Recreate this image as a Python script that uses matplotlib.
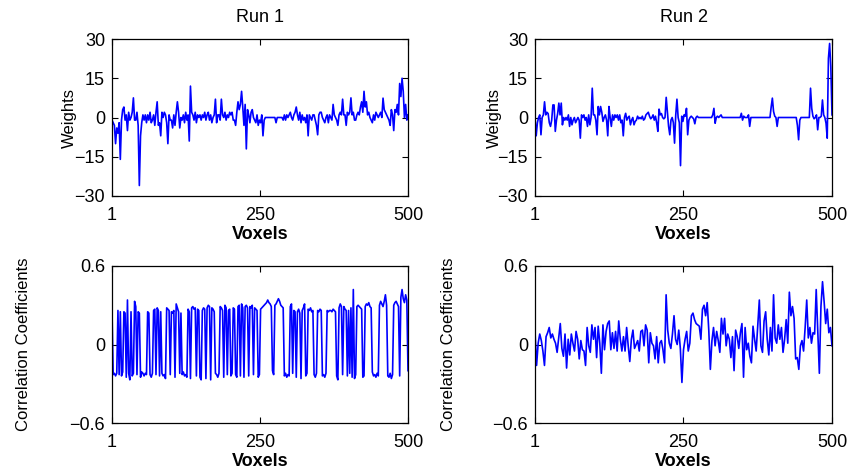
import numpy as np
import matplotlib
matplotlib.use("Agg")
import matplotlib.pyplot as plt

plt.rcParams['font.family'] = ['Liberation Sans', 'DejaVu Sans']

# classifier weights per voxel (every second voxel)
weights_run1 = [
    -1, -2, -3, -10, -4, -6, -2, -16, -1, 3,
    4, -1, 1, -5, 2, -1, 0, 2, 7.5, -1,
    -1, 2, -3, -26, -7, -2, 1, -1, 1, -2,
    1, -1, 2, -2, -1, 1, -3, 2, 6, -3,
    -2, -7, 2, 0, 2, 1, -2, -10, 1, -1,
    -1, -4, 1, -3, 2, 6, 2, -4, 0, -1,
    1, -2, 2, -1, 1, -9, 12, 2, 1, -1,
    2, -2, 1, 0, 1, -1, 1, 0, 2, -1,
    1, 2, -1, 1, -2, 0, 1, 7, -2, 1,
    1, -1, 7, 1, 0, 2, -1, 1, 0, 2,
    1, 2, -1, -1, -3, 2, 6, 3, 5, 10,
    4, -3, 5, -12, 3, 1, -2, 2, 3, 0,
    -1, -2, 1, -3, -1, -2, 1, -7, -1, 0,
    0, 0, 0, 0, 0, 0, 0, 0, -2, 0,
    0, 0, 0, 0, -1, 1, -1, 1, 0, 1,
    2, 0, -1, 1, 2, 4, 1, -1, 2, -2,
    1, -1, 0, -2, 1, -7, 1, 0, -1, 1,
    1, -1, -3, -6.6, 1, 2, 2, 0, -1, -2,
    0, 1, -2, 1, 0, -1, 5, 1, 0, -1,
    -3, 1, 2, 1, 7, 1, 1, -3, 2, 1,
    2, 7.5, 1, 2, -1, -1, 1, 2, 1, 4,
    6, 2, 10, 4, 6, 1, 2, 0, -1, -2,
    1, -1, 2, 1, 0, 1, 2, 0, 7.4, 3,
    2, 1, 0, -1, -3, 3, 1, -5, 3, 2,
    5, 1, 13, 8, 15, 10, 0, 5, -1, 1,
]

weights_run2 = [
    0, -7, -2, 0, 1, -6.6, 0, 1, 6, 1,
    2, 1.5, -2, -3.4, -1, 4.8, 4.8, -5.3, -1, 1.5,
    5.5, 1, 5.5, -2.8, 0, -1, 0, -1, 1, -3.4,
    0, -2.8, -1, 0, -2, -1, 0, -1, -7.9, 1,
    0, 1, -1, 0, -3.4, 1, -2.8, 0, 11.2, 1,
    1, -1, -6.6, 4.2, 1, 4.2, 2, -1.5, 0, 1,
    -1, -7, 4.2, 0, -3.4, 1, -1, 1, 0, 1,
    -1, 1, -2, -1, -7, 0, 1.6, -1, 0, 0.5,
    -2.8, -1, 0, -2.8, -1.5, -1, 0.5, -0.5, 0, -0.5,
    0.5, -1, -0.5, 1, 1.5, 2, 0.5, -0.5, 0, 1,
    -1, 0.5, -2, -5.3, 3.2, 1, 1.5, 0, -0.5, 0,
    7.7, 2, -3.4, -6.6, -1, 0, -2, -9.8, 1, 7,
    0, -2, -18.4, 0.5, -1.5, 1, 0.5, 3.5, -6.6, -1,
    0, 0.5, 0, -0.5, -2.4, 0, 0.5, 0, 0, 0,
    0, 0, 0, 0, 0, 0, 0, 0, 0, 1,
    3.5, -2.2, 0, 0.5, 0, 0.5, 1, 0, 0, 0,
    0, 0, 0, 0, 0, 0, 0, 0, 0, 0,
    0, 0, 0, 1.6, -1, 0.5, 0, 0, 0, 1,
    -3.4, 0, 0, 0, 0, 0, 0, 0, 0, 0,
    0, 0, 0, 0, 0, 0, 0, 0, 4, 7.4,
    2.3, 0.5, 0, -3.4, 0, 0, 0, 0, 0, 0,
    0, 0, 0, 0, 0, 0, 0, 0, 0, 0,
    -3, -8.5, -1, 0, 0, 0, 0, 0, 0, 0,
    0, 11.2, 3.5, 0.5, -0.5, 0, 1, -4.7, 0, 0,
    0.5, 6.7, 1, 0, -2.2, -7.9, 22.6, 28.3, 19.4, 1,
]

# correlation coefficient of each voxel with the label
corr_run1 = [
    0.26, -0.23, -0.22, -0.24, -0.22, 0.26, -0.23, 0.25, -0.24, -0.21,
    0.25, 0.24, -0.25, 0.34, -0.22, -0.27, 0.25, -0.24, -0.22, 0.33,
    0.29, -0.23, 0.25, 0.24, -0.25, -0.21, -0.22, -0.24, -0.22, -0.23,
    0.25, 0.24, -0.23, -0.25, -0.22, 0.26, 0.27, -0.23, 0.28, 0.26,
    -0.24, 0.25, -0.22, -0.24, -0.23, -0.26, 0.28, 0.27, 0.26, -0.23,
    0.25, 0.24, 0.26, -0.25, 0.31, 0.28, 0.25, -0.22, 0.24, -0.23,
    -0.21, -0.24, -0.23, -0.25, 0.27, 0.25, -0.26, 0.28, 0.29, 0.27,
    0.28, -0.24, 0.27, 0.26, -0.25, -0.27, 0.26, 0.28, 0.27, -0.26,
    0.28, 0.30, 0.29, -0.27, 0.28, 0.27, 0.25, -0.22, -0.23, -0.25,
    -0.22, 0.29, 0.28, 0.26, -0.25, 0.30, 0.28, -0.23, 0.26, 0.27,
    -0.24, -0.22, 0.28, 0.27, -0.23, -0.25, 0.29, 0.30, -0.24, 0.31,
    0.28, -0.25, 0.29, 0.30, 0.28, -0.24, 0.29, 0.28, 0.30, -0.23,
    0.28, 0.27, 0.26, -0.25, -0.23, 0.27, 0.28, 0.29, 0.30, 0.31,
    0.32, 0.34, 0.32, 0.31, 0.29, -0.20, -0.23, 0.30, 0.31, 0.33,
    0.35, 0.33, 0.30, 0.29, 0.28, -0.24, -0.22, -0.25, -0.23, -0.24,
    0.29, 0.31, -0.22, 0.26, 0.25, -0.25, 0.25, 0.27, 0.24, -0.26,
    0.26, 0.28, 0.31, -0.24, -0.22, 0.27, 0.26, 0.28, 0.25, 0.26,
    -0.23, -0.25, -0.22, 0.26, 0.25, 0.27, 0.26, -0.24, -0.23, -0.25,
    -0.22, 0.26, 0.25, 0.26, 0.26, 0.25, 0.27, 0.26, 0.25, -0.24,
    -0.27, 0.28, 0.31, 0.29, -0.23, 0.29, 0.27, 0.26, -0.24, 0.26,
    -0.22, 0.28, -0.25, 0.42, -0.26, -0.23, 0.29, 0.30, 0.29, 0.28,
    0.27, -0.25, -0.24, 0.29, 0.31, 0.30, 0.32, 0.29, 0.28, -0.21,
    -0.24, -0.23, -0.25, -0.22, -0.24, 0.30, 0.33, 0.31, 0.29, 0.33,
    0.38, 0.30, -0.24, -0.25, -0.22, -0.26, -0.23, 0.30, 0.32, 0.33,
    0.31, 0.29, -0.24, 0.36, 0.42, 0.35, 0.32, 0.38, 0.34, -0.20,
]

corr_run2 = [
    0.10, -0.16, 0.01, 0.08, 0.03, -0.05, -0.16, 0.06, 0.09, 0.13,
    0.05, 0.08, 0.04, 0.01, -0.06, 0.05, 0.16, -0.03, -0.09, 0.08,
    -0.18, 0.04, -0.08, 0.08, 0.01, -0.05, 0.10, 0.04, -0.11, 0.03,
    -0.04, -0.05, -0.16, 0.13, -0.01, -0.06, 0.15, 0.04, 0.13, -0.10,
    0.14, 0.01, -0.22, 0.15, -0.04, 0.10, 0.16, 0.18, -0.04, 0.09,
    -0.03, 0.10, -0.05, 0.18, 0.04, -0.05, 0.06, -0.05, 0.13, -0.01,
    -0.13, 0.04, 0.11, -0.03, 0.00, 0.03, -0.05, 0.10, 0.11, -0.01,
    0.15, 0.11, -0.14, 0.09, 0.01, -0.01, -0.11, 0.06, -0.14, 0.01,
    0.03, -0.04, -0.14, 0.38, 0.11, 0.01, -0.03, 0.08, 0.22, 0.04,
    0.00, 0.11, -0.03, -0.29, -0.04, 0.04, 0.10, -0.05, 0.01, 0.22,
    0.24, 0.19, 0.16, 0.15, 0.14, 0.04, 0.27, 0.30, 0.22, 0.32,
    0.11, -0.19, 0.03, 0.13, -0.01, 0.10, 0.03, -0.06, 0.20, 0.08,
    0.20, -0.01, 0.08, 0.04, -0.10, 0.06, -0.20, 0.11, 0.06, -0.03,
    0.09, 0.16, -0.25, 0.13, -0.04, 0.01, -0.09, -0.14, 0.14, 0.04,
    -0.05, 0.15, 0.34, -0.01, -0.06, 0.18, 0.25, 0.04, -0.08, 0.13,
    -0.05, 0.38, 0.05, 0.01, 0.15, 0.04, 0.13, -0.06, 0.04, 0.19,
    0.01, 0.40, 0.22, 0.29, 0.20, -0.11, -0.10, -0.19, -0.01, 0.03,
    -0.05, 0.13, 0.34, 0.05, 0.13, 0.01, 0.09, 0.08, 0.42, 0.11,
    -0.22, 0.29, 0.48, 0.33, 0.16, 0.27, 0.09, 0.13, -0.01,
]

runs = ["Run 1", "Run 2"]
voxel_ticks = [1, 250, 500]
weight_ticks = [-30, -15, 0, 15, 30]
weight_labels = ["\u221230", "\u221215", "0", "15", "30"]
corr_ticks = [-0.6, 0, 0.6]
corr_labels = ["\u22120.6", "0", "0.6"]

fig = plt.figure(figsize=(8.59, 4.75), dpi=100)

lefts = [112 / 859, 535 / 859]
widths = [296 / 859, 297 / 859]
top_row = 1 - 196 / 475
bottom_row = 1 - 423 / 475
row_h = 157 / 475

panels = [
    (0, top_row, weights_run1, weight_ticks, weight_labels, (-30, 30), "Weights", -0.118),
    (1, top_row, weights_run2, weight_ticks, weight_labels, (-30, 30), "Weights", -0.113),
    (0, bottom_row, corr_run1, corr_ticks, corr_labels, (-0.6, 0.6), "Correlation Coefficients", -0.272),
    (1, bottom_row, corr_run2, corr_ticks, corr_labels, (-0.6, 0.6), "Correlation Coefficients", -0.266),
]

for col, bottom, values, yt, ylab, ylim, ytitle, labx in panels:
    ax = fig.add_axes([lefts[col], bottom, widths[col], row_h])
    x = np.linspace(1, 500, len(values))
    ax.plot(x, values, color=(0, 0, 1), lw=1.2)
    ax.set_xlim(1, 500)
    ax.set_ylim(*ylim)
    ax.set_xticks(voxel_ticks)
    ax.set_xticklabels([str(v) for v in voxel_ticks])
    ax.set_yticks(yt)
    ax.set_yticklabels(ylab)
    ax.tick_params(direction="in", top=True, right=True, length=4, width=0.8,
                   labelsize=13)
    ax.tick_params(axis="x", pad=8)
    ax.tick_params(axis="y", pad=5)
    for s in ax.spines.values():
        s.set_linewidth(0.9)
    ax.set_xlabel("Voxels", fontsize=13, fontweight="bold", labelpad=1.5)
    ax.set_ylabel(ytitle, fontsize=12,
                  family=["Liberation Sans Narrow", "Liberation Sans"])
    ax.yaxis.set_label_coords(labx, 0.5)
    if bottom == top_row:
        ax.set_title(runs[col], fontsize=13, pad=12)

fig.savefig("out.png", dpi=100)
